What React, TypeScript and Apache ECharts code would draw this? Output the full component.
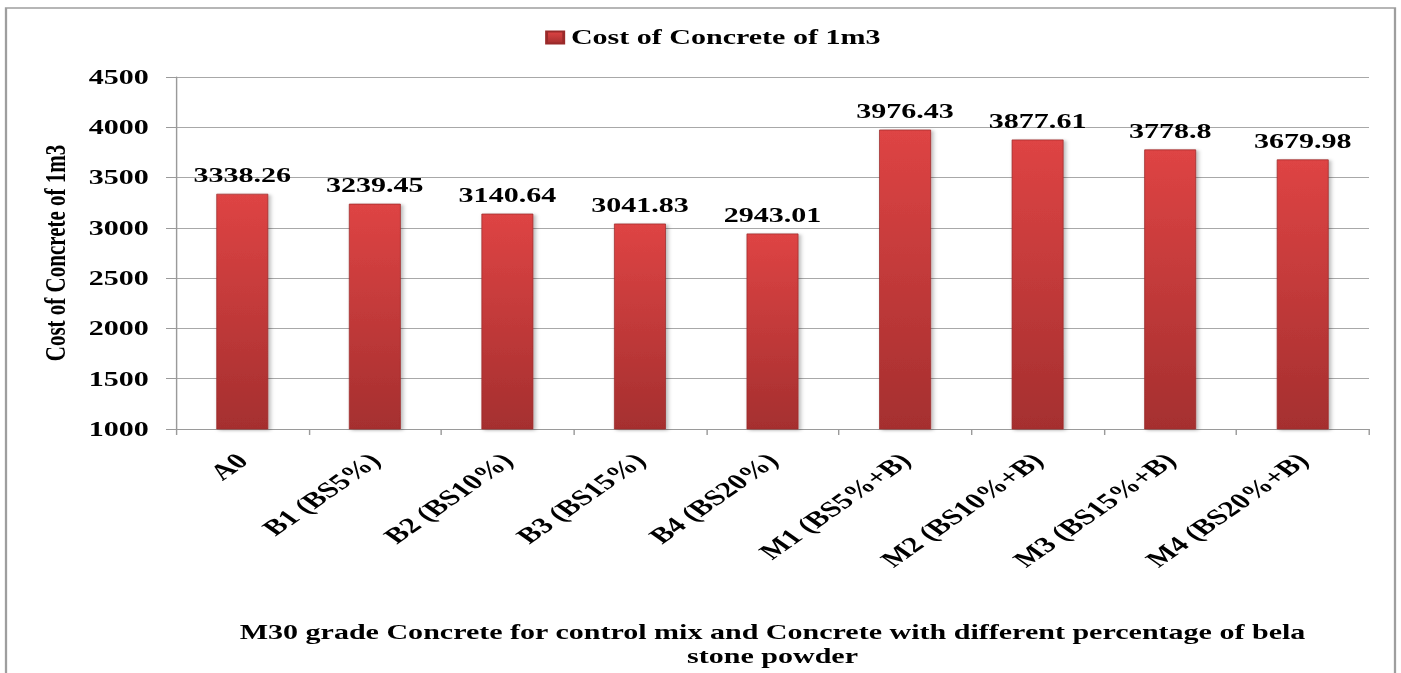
import React, { useEffect, useRef } from "react";
import * as echarts from "echarts";

const categories = [
  "A0",
  "B1 (BS5%)",
  "B2 (BS10%)",
  "B3 (BS15%)",
  "B4 (BS20%)",
  "M1 (BS5%+B)",
  "M2 (BS10%+B)",
  "M3 (BS15%+B)",
  "M4 (BS20%+B)",
];
const costValues = [3338.26, 3239.45, 3140.64, 3041.83, 2943.01, 3976.43, 3877.61, 3778.8, 3679.98];
const seriesName = "Cost of Concrete of 1m3";
const yAxisTitle = "Cost of Concrete of 1m3";
const xAxisTitle =
  "M30 grade Concrete for control mix and Concrete with different percentage of bela\nstone powder";
const yMin = 1000;
const yMax = 4500;
const yInterval = 500;

// The reference picture is horizontally stretched; reproduce it with a CSS scale.
const STRETCH = 1.43;
const PAGE_W = 1401;
const PAGE_H = 673;
const CHART_W = Math.round(PAGE_W / STRETCH);
const u = (px: number) => px / STRETCH; // page x -> unscaled x

const FONT = "'Liberation Serif', 'Times New Roman', serif";

export default function App() {
  const ref = useRef<HTMLDivElement>(null);

  useEffect(() => {
    if (!ref.current) return;
    const chart = echarts.init(ref.current, undefined, { renderer: "svg" });
    const barGradient = new echarts.graphic.LinearGradient(0, 0, 0, 1, [
      { offset: 0, color: "#de4444" },
      { offset: 1, color: "#a52f2f" },
    ]);
    chart.setOption({
      animation: false,
      backgroundColor: "#ffffff",
      textStyle: { fontFamily: FONT },
      graphic: [
        {
          type: "rect",
          shape: { x: u(6), y: 8, width: u(1395 - 6), height: 700 },
          style: { fill: "none", stroke: "#9e9e9e", lineWidth: 1.6 },
          silent: true,
        },
      ],
      legend: {
        top: 22,
        left: u(538),
        itemWidth: 12,
        itemHeight: 12,
        icon: "rect",
        textStyle: { fontFamily: FONT, fontWeight: "bold", fontSize: 21, color: "#000" },
        data: [seriesName],
      },
      grid: {
        left: u(176),
        right: CHART_W - u(1369),
        top: 77,
        bottom: 232,
        containLabel: false,
      },
      xAxis: {
        type: "category",
        data: categories,
        name: xAxisTitle,
        nameLocation: "middle",
        nameGap: 191,
        nameTextStyle: {
          fontFamily: FONT,
          fontWeight: "bold",
          fontSize: 21,
          lineHeight: 24,
          color: "#000",
          align: "center",
        },
        axisLine: { show: true, lineStyle: { color: "#9a9a9a", width: 1 } },
        axisTick: { show: true, length: 6, interval: 0, lineStyle: { color: "#9a9a9a" } },
        axisLabel: {
          interval: 0,
          rotate: 45,
          margin: 28,
          fontFamily: FONT,
          fontWeight: "bold",
          fontSize: 22,
          color: "#000",
        },
        splitLine: { show: false },
      },
      yAxis: {
        type: "value",
        min: yMin,
        max: yMax,
        interval: yInterval,
        name: yAxisTitle,
        nameLocation: "middle",
        nameGap: 74,
        nameTextStyle: { fontFamily: FONT, fontWeight: "bold", fontSize: 21, color: "#000" },
        axisLine: { show: true, lineStyle: { color: "#9a9a9a", width: 1 } },
        axisTick: { show: true, length: 7, lineStyle: { color: "#9a9a9a" } },
        axisLabel: {
          margin: 19,
          formatter: (v: number) => String(v),
          fontFamily: FONT,
          fontWeight: "bold",
          fontSize: 21,
          color: "#000",
        },
        splitLine: { show: true, lineStyle: { color: "#a8a8a8", width: 1 } },
      },
      series: [
        {
          name: seriesName,
          type: "bar",
          data: costValues,
          barWidth: u(52),
          itemStyle: {
            color: barGradient,
            borderColor: "#9a2a2a",
            borderWidth: 0.6,
            shadowColor: "rgba(0,0,0,0.3)",
            shadowBlur: 3,
            shadowOffsetX: 1.5,
            shadowOffsetY: 1,
          },
          label: {
            show: true,
            position: "top",
            distance: 8,
            fontFamily: FONT,
            fontWeight: "bold",
            fontSize: 21,
            color: "#000",
          },
        },
      ],
    });
    return () => chart.dispose();
  }, []);

  return (
    <div
      style={{
        position: "fixed",
        left: 0,
        top: 0,
        width: CHART_W,
        height: PAGE_H,
        transform: `scaleX(${STRETCH})`,
        transformOrigin: "0 0",
        background: "#fff",
      }}
    >
      <div ref={ref} style={{ width: CHART_W, height: PAGE_H }} />
    </div>
  );
}
